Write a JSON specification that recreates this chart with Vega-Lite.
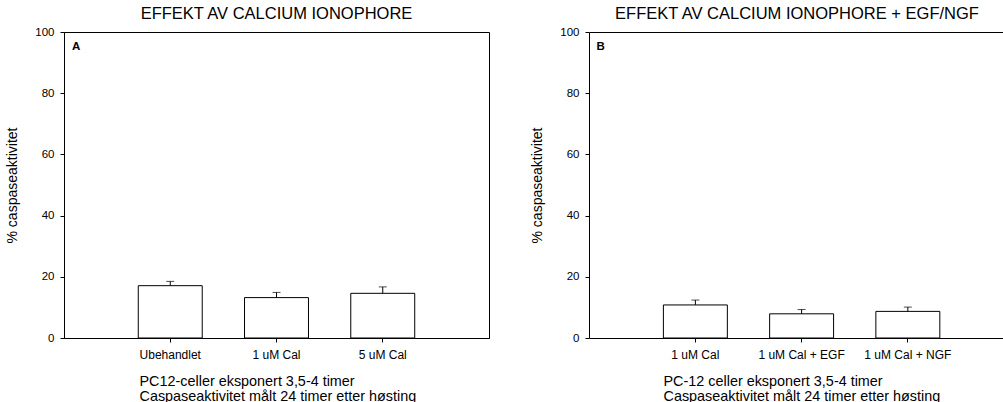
{
  "$schema": "https://vega.github.io/schema/vega-lite/v6.json",
  "padding": {"left": 5, "top": 5, "right": 0, "bottom": 0},
  "spacing": 40,
  "config": {
    "font": "Liberation Sans",
    "view": {"stroke": "black", "strokeWidth": 1},
    "axis": {
      "domainColor": "black",
      "tickColor": "black",
      "labelColor": "black",
      "titleColor": "black",
      "grid": false,
      "labelFont": "Liberation Sans",
      "titleFont": "Liberation Sans"
    },
    "title": {"font": "Liberation Sans", "color": "black"}
  },
  "hconcat": [
    {
      "width": 425,
      "height": 306,
      "title": {"text": "EFFEKT AV CALCIUM IONOPHORE", "fontSize": 16.5, "fontWeight": "normal", "offset": 4},
      "layer": [
        {
          "data": {"values": [
            {"group": "Ubehandlet", "mean": 17.1, "upper": 18.5},
            {"group": "1 uM Cal", "mean": 13.2, "upper": 14.9},
            {"group": "5 uM Cal", "mean": 14.6, "upper": 16.7}
          ]},
          "encoding": {
            "x": {"field": "group", "type": "nominal", "sort": null,
              "scale": {"paddingInner": 0.398, "paddingOuter": 0.699},
              "axis": {"labelAngle": 0, "labelFontSize": 12, "tickSize": 4, "labelPadding": 7,
                "title": ["PC12-celler eksponert 3,5-4 timer", "Caspaseaktivitet målt 24 timer etter høsting"],
                "titleFontSize": 14.4, "titleFontWeight": "normal", "titleAlign": "left", "titleAnchor": "start",
                "titleX": 75, "titleY": 36, "titleBaseline": "top", "titleLineHeight": 15}}
          },
          "layer": [
            {
              "mark": {"type": "bar", "fill": "white", "stroke": "black", "strokeWidth": 1},
              "encoding": {
                "y": {"field": "mean", "type": "quantitative", "scale": {"domain": [0, 100]},
                  "axis": {"values": [0, 20, 40, 60, 80, 100], "labelFontSize": 11.5, "tickSize": 4, "labelPadding": 6,
                    "title": "% caspaseaktivitet", "titleFontSize": 14, "titleFontWeight": "normal", "titlePadding": 15}}
              }
            },
            {
              "mark": {"type": "rule", "color": "black", "strokeWidth": 1},
              "encoding": {
                "y": {"field": "mean", "type": "quantitative"},
                "y2": {"field": "upper"}
              }
            },
            {
              "mark": {"type": "tick", "color": "black", "size": 8, "thickness": 1},
              "encoding": {
                "y": {"field": "upper", "type": "quantitative"}
              }
            }
          ]
        },
        {
          "data": {"values": [{}]},
          "mark": {"type": "text", "text": "A", "fontWeight": "bold", "fontSize": 11.5, "align": "left", "baseline": "alphabetic", "color": "black"},
          "encoding": {
            "x": {"datum": 0.019, "type": "quantitative", "scale": {"domain": [0, 1]}, "axis": null},
            "y": {"datum": 94, "type": "quantitative"}
          }
        }
      ],
      "resolve": {"scale": {"x": "independent"}}
    },
    {
      "width": 416,
      "height": 306,
      "view": {"stroke": null},
      "title": {"text": "EFFEKT AV CALCIUM IONOPHORE + EGF/NGF", "fontSize": 16.5, "fontWeight": "normal", "offset": 4},
      "layer": [
        {
          "data": {"values": [
            {"group": "1 uM Cal", "mean": 10.8, "upper": 12.4},
            {"group": "1 uM Cal + EGF", "mean": 7.9, "upper": 9.3},
            {"group": "1 uM Cal + NGF", "mean": 8.7, "upper": 10.1}
          ]},
          "encoding": {
            "x": {"field": "group", "type": "nominal", "sort": null,
              "scale": {"paddingInner": 0.398, "paddingOuter": 0.657, "align": 0.533},
              "axis": {"labelAngle": 0, "labelFontSize": 12, "tickSize": 4, "labelPadding": 7,
                "title": ["PC-12 celler eksponert 3,5-4 timer", "Caspaseaktivitet målt 24 timer etter høsting"],
                "titleFontSize": 14.4, "titleFontWeight": "normal", "titleAlign": "left", "titleAnchor": "start",
                "titleX": 74, "titleY": 36, "titleBaseline": "top", "titleLineHeight": 15}}
          },
          "layer": [
            {
              "mark": {"type": "bar", "fill": "white", "stroke": "black", "strokeWidth": 1},
              "encoding": {
                "y": {"field": "mean", "type": "quantitative", "scale": {"domain": [0, 100]},
                  "axis": {"values": [0, 20, 40, 60, 80, 100], "labelFontSize": 11.5, "tickSize": 4, "labelPadding": 6,
                    "title": "% caspaseaktivitet", "titleFontSize": 14, "titleFontWeight": "normal", "titlePadding": 15}}
              }
            },
            {
              "mark": {"type": "rule", "color": "black", "strokeWidth": 1},
              "encoding": {
                "y": {"field": "mean", "type": "quantitative"},
                "y2": {"field": "upper"}
              }
            },
            {
              "mark": {"type": "tick", "color": "black", "size": 8, "thickness": 1},
              "encoding": {
                "y": {"field": "upper", "type": "quantitative"}
              }
            }
          ]
        },
        {
          "data": {"values": [{}]},
          "mark": {"type": "text", "text": "B", "fontWeight": "bold", "fontSize": 11.5, "align": "left", "baseline": "alphabetic", "color": "black"},
          "encoding": {
            "x": {"datum": 0.018, "type": "quantitative", "scale": {"domain": [0, 1]},
              "axis": {"orient": "top", "labels": false, "ticks": false, "title": null, "domain": true}},
            "y": {"datum": 94, "type": "quantitative"}
          }
        }
      ],
      "resolve": {"scale": {"x": "independent"}}
    }
  ]
}
